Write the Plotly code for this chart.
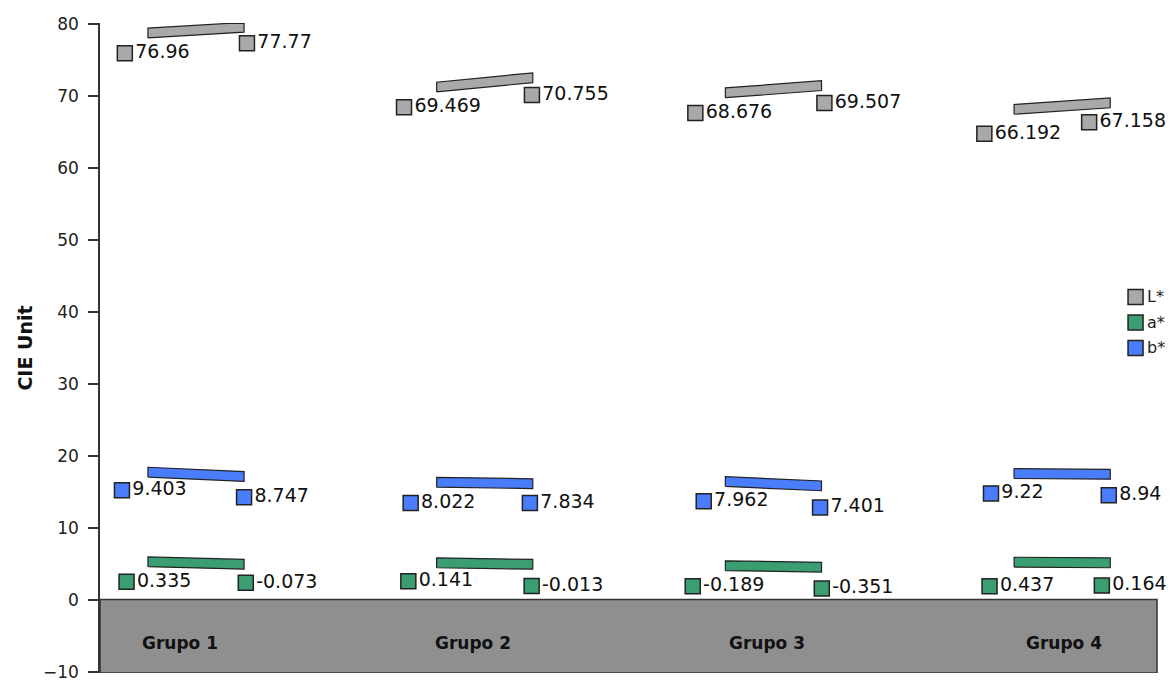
import plotly.graph_objects as go

# categories
groups = ["Grupo 1", "Grupo 2", "Grupo 3", "Grupo 4"]

# value labels shown next to the markers (start / end of each group)
l_start_txt = ["76.96", "69.469", "68.676", "66.192"]
l_end_txt = ["77.77", "70.755", "69.507", "67.158"]
a_start_txt = ["0.335", "0.141", "-0.189", "0.437"]
a_end_txt = ["-0.073", "-0.013", "-0.351", "0.164"]
b_start_txt = ["9.403", "8.022", "7.962", "9.22"]
b_end_txt = ["8.747", "7.834", "7.401", "8.94"]

# plotted marker heights (CIE units)
l_start_y = [75.9, 68.4, 67.6, 64.7]
l_end_y = [77.3, 70.1, 69.0, 66.3]
a_start_y = [2.47, 2.54, 1.85, 1.85]
a_end_y = [2.33, 1.90, 1.53, 1.94]
b_start_y = [15.2, 13.4, 13.65, 14.75]
b_end_y = [14.2, 13.4, 12.8, 14.5]

# slanted bar heights (left end / right end)
l_bar_left = [78.7, 71.2, 70.4, 68.1]
l_bar_right = [79.5, 72.5, 71.4, 69.0]
a_bar_left = [5.25, 5.1, 4.7, 5.2]
a_bar_right = [4.9, 4.9, 4.5, 5.1]
b_bar_left = [17.7, 16.3, 16.4, 17.5]
b_bar_right = [17.1, 16.1, 15.8, 17.4]

# horizontal marker offsets within each group
l_start_dx = [-0.080, -0.113, -0.104, -0.103]
l_end_dx = [0.343, 0.330, 0.343, 0.260]
a_start_dx = [-0.074, -0.098, -0.113, -0.085]
a_end_dx = [0.339, 0.329, 0.334, 0.304]
b_start_dx = [-0.090, -0.090, -0.075, -0.080]
b_end_dx = [0.333, 0.323, 0.328, 0.328]

# position of the group names on the floor
group_label_x = [0.111, 1.126, 2.143, 3.173]

FONT = "DejaVu Sans, Verdana, sans-serif"
EDGE = "#222222"
BAR_W = 0.333
BAR_HALF = 0.68

series = [
    ("L*", "#a9a9a9", l_start_y, l_end_y, l_start_txt, l_end_txt,
     l_start_dx, l_end_dx, l_bar_left, l_bar_right),
    ("a*", "#3a9e72", a_start_y, a_end_y, a_start_txt, a_end_txt,
     a_start_dx, a_end_dx, a_bar_left, a_bar_right),
    ("b*", "#4a7dfb", b_start_y, b_end_y, b_start_txt, b_end_txt,
     b_start_dx, b_end_dx, b_bar_left, b_bar_right),
]

fig = go.Figure()

for name, color, sy, ey, stxt, etxt, sdx, edx, bl, br in series:
    # slanted bars, one closed polygon per group
    xs, ys = [], []
    for i in range(len(groups)):
        xs += [i, i + BAR_W, i + BAR_W, i, i, None]
        ys += [bl[i] - BAR_HALF, br[i] - BAR_HALF, br[i] + BAR_HALF,
               bl[i] + BAR_HALF, bl[i] - BAR_HALF, None]
    fig.add_trace(go.Scatter(
        x=xs, y=ys, mode="lines", fill="toself", fillcolor=color,
        line=dict(color=EDGE, width=1.2), hoverinfo="skip", showlegend=False,
    ))

    px, py, pt = [], [], []
    for i in range(len(groups)):
        px += [i + sdx[i], i + edx[i]]
        py += [sy[i], ey[i]]
        pt += [stxt[i], etxt[i]]
    fig.add_trace(go.Scatter(
        x=px, y=py, text=pt, mode="markers+text", textposition="middle right",
        textfont=dict(family=FONT, size=19, color="#111111"),
        marker=dict(symbol="square", size=15, color=color,
                    line=dict(color=EDGE, width=1.5)),
        cliponaxis=False, showlegend=False, name=name,
    ))

# small legend on the right, drawn in paper coordinates
for k, (name, color, *_rest) in enumerate(series):
    yc = 0.5785 - k * 0.0392
    fig.add_shape(type="rect", xref="paper", yref="paper",
                  x0=0.9726, x1=0.9868, y0=yc - 0.0115, y1=yc + 0.0115,
                  fillcolor=color, line=dict(color=EDGE, width=1.5))
    fig.add_annotation(xref="paper", yref="paper", x=0.9886, y=yc, text=name,
                       xanchor="left", yanchor="middle", showarrow=False,
                       font=dict(family=FONT, size=16, color="#222222"))

# grey floor between 0 and -10
fig.add_shape(type="rect", xref="paper", yref="y", x0=0, x1=1, y0=-10.2, y1=0,
              fillcolor="#8f8f8f", line=dict(color="#333333", width=1.5), layer="below")

for gx, g in zip(group_label_x, groups):
    fig.add_annotation(x=gx, y=-6.1, text="<b>%s</b>" % g, showarrow=False,
                       font=dict(family=FONT, size=17, color="#111111"))

fig.update_layout(
    width=1174, height=682,
    margin=dict(l=100, r=17, t=23, b=9),
    paper_bgcolor="white", plot_bgcolor="white",
    font=dict(family=FONT, color="#222222"),
    showlegend=False,
)

fig.update_xaxes(range=[-0.166, 3.495], visible=False, showgrid=False)
fig.update_yaxes(
    range=[-10.2, 80.1], tickmode="array", tickvals=list(range(-10, 81, 10)),
    showgrid=False, zeroline=False, showline=True, linecolor="#333333", linewidth=1.5,
    ticks="outside", ticklen=10, tickcolor="#333333", tickwidth=1.5,
    tickfont=dict(family=FONT, size=17, color="#222222"), ticklabelstandoff=6,
    title=dict(text="<b>CIE Unit</b>", font=dict(family=FONT, size=19, color="#111111"),
               standoff=5),
    automargin=False,
)

# drop the default page margin so the figure sits at the window's corner
fig.write_html("out.html", config={"displayModeBar": False},
               post_script="document.body.style.margin='0';")
